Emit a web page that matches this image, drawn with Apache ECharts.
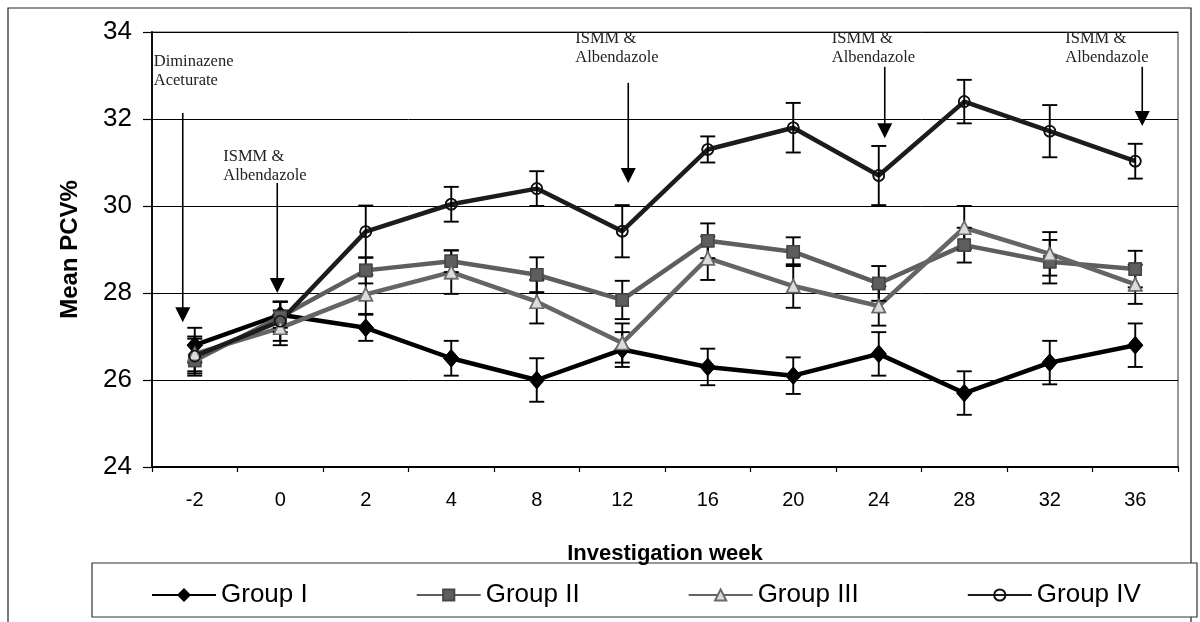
<!DOCTYPE html>
<html>
<head>
<meta charset="utf-8">
<script src="https://cdn.jsdelivr.net/npm/echarts@6/dist/echarts.min.js"></script>
<style>
html,body{margin:0;padding:0;background:#fff;}
#chart{width:1200px;height:622px;}
</style>
</head>
<body>
<div id="chart"></div>
<script>
const weeks = ['-2','0','2','4','8','12','16','20','24','28','32','36'];
const yTicks = [24, 26, 28, 30, 32, 34];
const seriesNames = ['Group I','Group II','Group III','Group IV'];
const group1 = [26.8, 27.5, 27.2, 26.5, 26.0, 26.7, 26.3, 26.1, 26.6, 25.7, 26.4, 26.8];
const group1Err = [0.4, 0.3, 0.3, 0.4, 0.5, 0.4, 0.42, 0.42, 0.5, 0.5, 0.5, 0.5];
const group2 = [26.45, 27.45, 28.52, 28.73, 28.42, 27.84, 29.2, 28.95, 28.22, 29.1, 28.72, 28.55];
const group2Err = [0.35, 0.35, 0.3, 0.25, 0.4, 0.44, 0.4, 0.33, 0.4, 0.4, 0.5, 0.42];
const group3 = [26.6, 27.2, 27.97, 28.48, 27.8, 26.85, 28.8, 28.16, 27.7, 29.5, 28.9, 28.2];
const group3Err = [0.4, 0.4, 0.45, 0.5, 0.5, 0.45, 0.5, 0.5, 0.45, 0.5, 0.5, 0.45];
const group4 = [26.55, 27.35, 29.41, 30.04, 30.4, 29.42, 31.3, 31.8, 30.7, 32.4, 31.72, 31.03];
const group4Err = [0.4, 0.45, 0.6, 0.4, 0.4, 0.6, 0.3, 0.57, 0.68, 0.5, 0.6, 0.4];

// annotations: category, arrow top value, arrow tip value, label
const annCats = ['-2', '0', '12', '24', '36'];
const annTop = [32.14, 30.53, 32.83, 33.2, 33.2];
const annTip = [27.33, 28.0, 30.53, 31.56, 31.84];
const annLabels = ['Diminazene\nAceturate', 'ISMM &\nAlbendazole', 'ISMM &\nAlbendazole', 'ISMM &\nAlbendazole', 'ISMM &\nAlbendazole'];

const chart = echarts.init(document.getElementById('chart'), null, {renderer: 'canvas'});

const styles = [
  {line: '#000000', symbol: 'diamond', size: [14, 16], fill: '#000000', border: '#000000'},
  {line: '#5e5e5e', symbol: 'rect', size: 12, fill: '#5e5e5e', border: '#474747'},
  {line: '#656565', symbol: 'triangle', size: 13, fill: '#dcdcdc', border: '#6a6a6a'},
  {line: '#1c1c1c', symbol: 'circle', size: 11, fill: 'rgba(255,255,255,0)', border: '#111111'}
];
const values = [group1, group2, group3, group4];
const errs = [group1Err, group2Err, group3Err, group4Err];

function errRender(params, api) {
  const x = api.value(0);
  const lo = api.coord([x, api.value(1)]);
  const hi = api.coord([x, api.value(2)]);
  const w = 7.5;
  const st = {stroke: '#000', lineWidth: 1.9};
  return {type: 'group', children: [
    {type: 'line', shape: {x1: hi[0], y1: hi[1], x2: lo[0], y2: lo[1]}, style: st},
    {type: 'line', shape: {x1: hi[0] - w, y1: hi[1], x2: hi[0] + w, y2: hi[1]}, style: st},
    {type: 'line', shape: {x1: lo[0] - w, y1: lo[1], x2: lo[0] + w, y2: lo[1]}, style: st}
  ]};
}

const series = [];
seriesNames.forEach((name, k) => {
  const s = styles[k];
  series.push({
    name: name, type: 'line', data: values[k], z: 2,
    symbol: s.symbol, symbolSize: s.size, showSymbol: true,
    lineStyle: {color: s.line, width: 4.5},
    itemStyle: {color: s.fill, borderColor: s.border, borderWidth: 1.5},
    emphasis: {disabled: true}, animation: false
  });
});
seriesNames.forEach((name, k) => {
  series.push({
    type: 'custom', renderItem: errRender, z: 3, silent: true, animation: false,
    data: values[k].map((v, i) => [i, +(v - errs[k][i]).toFixed(3), +(v + errs[k][i]).toFixed(3)])
  });
});
seriesNames.forEach((name, k) => {
  const s = styles[k];
  series.push({
    type: 'scatter', data: values[k], z: 4, silent: true, animation: false,
    symbol: s.symbol, symbolSize: s.size,
    itemStyle: {color: s.fill, borderColor: s.border, borderWidth: 1.6, opacity: 1}
  });
});

const option = {
  backgroundColor: '#ffffff',
  animation: false,
  grid: {left: 152, right: 22, top: 32, bottom: 155, show: true, borderColor: '#555', borderWidth: 1.2},
  xAxis: {
    type: 'category', data: weeks, boundaryGap: true,
    name: 'Investigation week', nameLocation: 'middle', nameGap: 76,
    nameTextStyle: {fontFamily: 'Liberation Sans, Arial', fontWeight: 'bold', fontSize: 22, color: '#000'},
    axisLine: {lineStyle: {color: '#000', width: 1.8}},
    axisTick: {show: true, alignWithLabel: false, length: 5, lineStyle: {color: '#000', width: 1.2}},
    axisLabel: {fontFamily: 'Liberation Sans, Arial', fontSize: 20, color: '#000', margin: 23}
  },
  yAxis: {
    type: 'value', min: 24, max: 34, interval: 2,
    name: 'Mean PCV%', nameLocation: 'middle', nameGap: 70,
    nameTextStyle: {fontFamily: 'Liberation Sans, Arial', fontWeight: 'bold', fontSize: 24, color: '#000'},
    axisLine: {show: true, lineStyle: {color: '#000', width: 1.8}},
    axisTick: {show: true, length: 9, lineStyle: {color: '#000', width: 1.2}},
    axisLabel: {fontFamily: 'Liberation Sans, Arial', fontSize: 26, color: '#000', margin: 20,
      formatter: v => yTicks.includes(v) ? String(v) : ''},
    splitLine: {show: true, lineStyle: {color: '#000', width: 1}}
  },
  legend: {
    data: seriesNames, left: 146, top: 577, itemGap: 108, itemWidth: 64, itemHeight: 14,
    textStyle: {fontFamily: 'Liberation Sans, Arial', fontSize: 26, color: '#000'},
    selectedMode: false
  },
  series: series
};
chart.setOption(option);

// decorative frames and annotations placed via axis conversion
const graphics = [
  {type: 'rect', shape: {x: 8, y: 8, width: 1183, height: 700}, style: {fill: 'none', stroke: '#222', lineWidth: 1.2}, z: 0, silent: true},
  {type: 'rect', shape: {x: 92, y: 563, width: 1105, height: 54}, style: {fill: '#fff', stroke: '#333', lineWidth: 1.2}, z: 0, silent: true}
];
const arrowDx = [-12, -3, 6, 6, 7];
const textDx = [-29, -54, -53, -53, -77];
const textTopY = [52, 147, 29, 29, 29];
annCats.forEach((c, i) => {
  const idx = weeks.indexOf(c);
  const pTop = chart.convertToPixel({xAxisIndex: 0, yAxisIndex: 0}, [idx, annTop[i]]);
  const pTip = chart.convertToPixel({xAxisIndex: 0, yAxisIndex: 0}, [idx, annTip[i]]);
  const x = pTop[0] + arrowDx[i];
  const headH = 15, headW = 7.5;
  graphics.push({type: 'line', shape: {x1: x, y1: pTop[1], x2: x, y2: pTip[1] - headH + 1}, style: {stroke: '#000', lineWidth: 1.6}, z: 10, silent: true});
  graphics.push({type: 'polygon', shape: {points: [[x - headW, pTip[1] - headH], [x + headW, pTip[1] - headH], [x, pTip[1]]]}, style: {fill: '#000'}, z: 10, silent: true});
  graphics.push({type: 'text', x: x + textDx[i], y: textTopY[i], style: {
    text: annLabels[i], fontFamily: 'Liberation Serif, Times New Roman', fontSize: 16.5, lineHeight: 19, fill: '#222',
    textAlign: 'left', textVerticalAlign: 'top'}, z: 10, silent: true});
});
chart.setOption({graphic: graphics});
</script>
</body>
</html>
